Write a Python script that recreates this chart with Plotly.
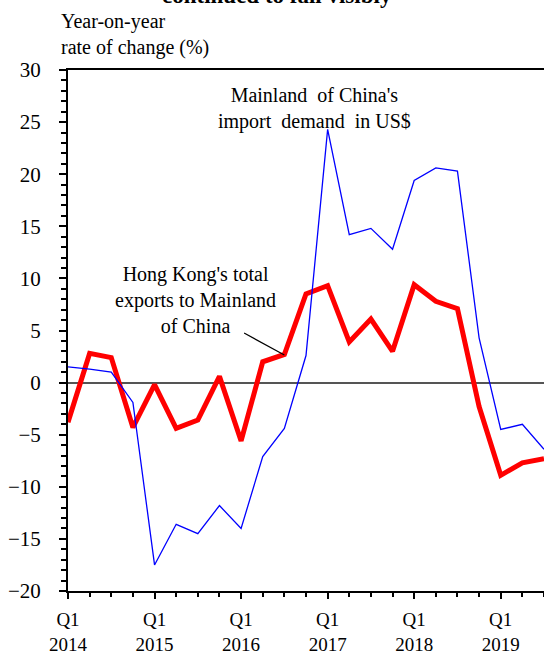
import plotly.graph_objects as go

quarters = ["Q1 2014", "Q2 2014", "Q3 2014", "Q4 2014",
            "Q1 2015", "Q2 2015", "Q3 2015", "Q4 2015",
            "Q1 2016", "Q2 2016", "Q3 2016", "Q4 2016",
            "Q1 2017", "Q2 2017", "Q3 2017", "Q4 2017",
            "Q1 2018", "Q2 2018", "Q3 2018", "Q4 2018",
            "Q1 2019", "Q2 2019", "Q3 2019"]
hk_exports = [-3.8, 2.8, 2.4, -4.3,
              -0.2, -4.4, -3.6, 0.6,
              -5.6, 2.0, 2.7, 8.5,
              9.3, 3.9, 6.1, 3.0,
              9.4, 7.8, 7.1, -2.3,
              -8.9, -7.7, -7.3]
mainland_imports = [1.5, 1.3, 1.0, -1.9,
                    -17.5, -13.6, -14.5, -11.8,
                    -14.0, -7.1, -4.4, 2.6,
                    24.3, 14.2, 14.8, 12.8,
                    19.4, 20.6, 20.3, 4.3,
                    -4.5, -4.0, -6.4]
tick_labels = ["Q1<br>2014", "Q1<br>2015", "Q1<br>2016", "Q1<br>2017", "Q1<br>2018", "Q1<br>2019"]

x = list(range(len(quarters)))
FONT = "Times New Roman, Liberation Serif, serif"

W, H = 544, 652
ML, MR, MT, MB = 68, 0, 70, 61
ph = H - MT - MB


def py(p):
    return 1 - (p - MT) / ph


def px(p):
    return (p - ML) / (W - ML - MR)


fig = go.Figure()
fig.add_trace(go.Scatter(x=x, y=hk_exports, mode="lines",
                         line=dict(color="#ff0000", width=5), name="HK exports"))
fig.add_trace(go.Scatter(x=x, y=mainland_imports, mode="lines",
                         line=dict(color="#0000ff", width=1.3), name="Mainland imports"))

fig.update_layout(
    width=W, height=H,
    margin=dict(l=ML, r=MR, t=MT, b=MB, autoexpand=False),
    paper_bgcolor="white", plot_bgcolor="white",
    showlegend=False,
    font=dict(family=FONT, size=19, color="black"),
    xaxis=dict(range=[0, 22], tickmode="array", tickvals=[0, 4, 8, 12, 16, 20],
               ticktext=tick_labels, showgrid=False, zeroline=False,
               showline=True, linecolor="black", linewidth=2, mirror=True,
               ticks="outside", ticklen=6, tickwidth=2, tickcolor="black",
               minor=dict(tickmode="linear", tick0=0, dtick=1, ticks="outside",
                          ticklen=4, tickwidth=1.5, tickcolor="black", showgrid=False),
               tickfont=dict(family=FONT, size=19), ticklabelstandoff=4),
    yaxis=dict(range=[-20, 30], tickmode="linear", tick0=0, dtick=5,
               showgrid=False, zeroline=True, zerolinecolor="#555555", zerolinewidth=2,
               showline=True, linecolor="black", linewidth=2,
               ticks="outside", ticklen=7, tickwidth=2, tickcolor="black",
               minor=dict(tickmode="linear", tick0=0, dtick=1, ticks="outside",
                          ticklen=5, tickwidth=1.5, tickcolor="black", showgrid=False),
               tickfont=dict(family=FONT, size=21), ticklabelstandoff=14),
)

fig.add_annotation(text="<b>continued to fall visibly</b>", xref="paper", yref="paper",
                   x=px(277), y=py(-5), xanchor="center", yanchor="middle",
                   showarrow=False, font=dict(family=FONT, size=23))
fig.add_annotation(text="Year-on-year<br>rate of change (%)", xref="paper", yref="paper",
                   x=px(59), y=py(35), xanchor="left", yanchor="middle", align="left",
                   showarrow=False, font=dict(family=FONT, size=20))
fig.add_annotation(text="Mainland  of China's<br>import  demand  in US$", xref="x", yref="y",
                   x=11.4, y=26.3, xanchor="center", yanchor="middle", align="center",
                   showarrow=False, font=dict(family=FONT, size=20))
fig.add_annotation(text="Hong Kong's total<br>exports to Mainland<br>of China", xref="x", yref="y",
                   x=5.87, y=7.97, xanchor="center", yanchor="middle", align="center",
                   showarrow=False, font=dict(family=FONT, size=20))
fig.add_annotation(text="", xref="x", yref="y", x=10, y=2.65,
                   axref="x", ayref="y", ax=8.07, ay=4.83,
                   showarrow=True, arrowhead=0, arrowwidth=1.2, arrowcolor="black", standoff=0)

fig.write_html("out.html", config={"displayModeBar": False},
               post_script="document.body.style.margin='0px';document.body.style.overflow='hidden';")
